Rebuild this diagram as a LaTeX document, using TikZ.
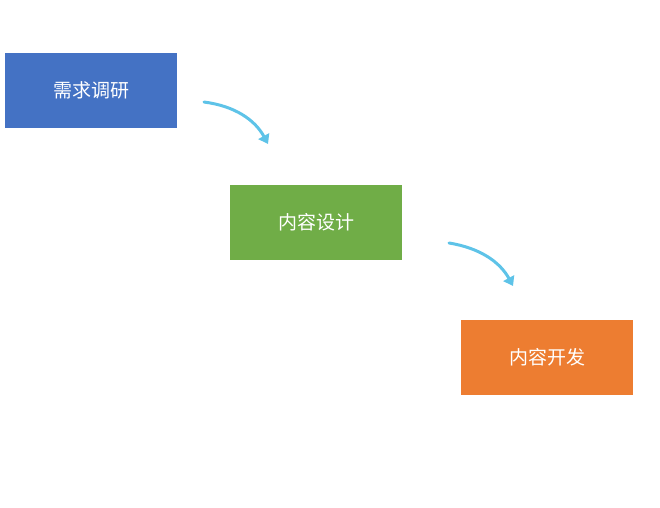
\documentclass[tikz,border=0pt]{standalone}
\usepackage{fontspec}
\newfontfamily\cjk{Noto Sans CJK SC}
\usetikzlibrary{arrows.meta}
\definecolor{cblue}{HTML}{4472C4}
\definecolor{cgreen}{HTML}{70AD47}
\definecolor{corange}{HTML}{ED7D31}
\definecolor{carrow}{HTML}{5EC3E8}
\tikzset{
  stagebox/.style={minimum width=172pt,minimum height=75pt,inner sep=0pt,text=white,font=\cjk\fontsize{19}{22}\selectfont},
  flow/.style={carrow,line width=3pt,-{Triangle[width=12pt,length=9pt]},line cap=round}
}
\begin{document}
\begin{tikzpicture}[x=1pt,y=-1pt]
\useasboundingbox (0,0) rectangle (660,507);
\node[stagebox,fill=cblue] (a) at (91,90.5) {需求调研};
\node[stagebox,fill=cgreen] (b) at (316,222.5) {内容设计};
\node[stagebox,fill=corange] (c) at (547,357.5) {内容开发};
\coordinate (a1) at (204,102);
\coordinate (a2) at (268,144);
\coordinate (b1) at (449,243);
\coordinate (b2) at (513,286);
\draw[flow] (a1) .. controls (235,106) and (255,120) .. (a2);
\draw[flow] (b1) .. controls (480,248) and (500,262) .. (b2);
\end{tikzpicture}
\end{document}
